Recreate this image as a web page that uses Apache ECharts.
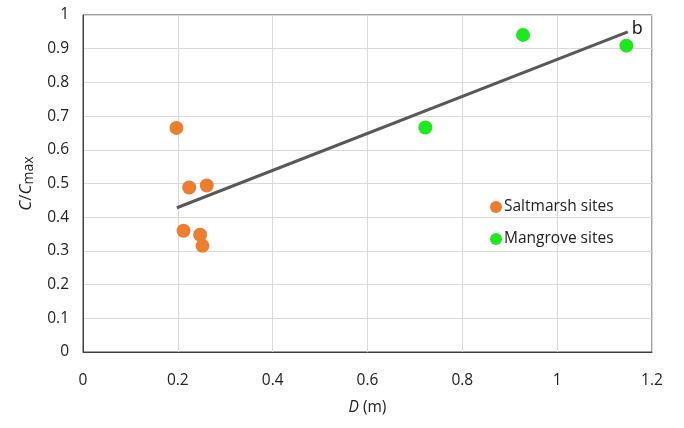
<!DOCTYPE html>
<html>
<head>
<meta charset="utf-8">
<script src="https://cdn.jsdelivr.net/npm/echarts@6/dist/echarts.min.js"></script>
<style>
  html, body { margin: 0; padding: 0; background: #fff; }
  #chart { width: 684px; height: 428px; }
</style>
</head>
<body>
<div id="chart"></div>
<script>
// saltmarsh sites
const saltX = [0.197, 0.224, 0.261, 0.212, 0.247, 0.252]
const saltY = [0.665, 0.488, 0.494, 0.360, 0.348, 0.315]
// mangrove sites
const mangX = [0.722, 0.928, 1.146]
const mangY = [0.666, 0.941, 0.909]
// trend line b
const trendX = [0.198, 1.149]
const trendY = [0.428, 0.950]

const pairs = (xs, ys) => xs.map((x, i) => [x, ys[i]])
const font = 'Open Sans'

const myChart = echarts.init(document.getElementById('chart'))
const option = {
  animation: false,
  grid: { left: 83, right: 32, top: 15, bottom: 76, show: true, borderColor: '#404040', borderWidth: 1 },
  legend: {
    orient: 'vertical',
    left: 485,
    top: 194,
    itemGap: 16,
    itemWidth: 12,
    itemHeight: 12,
    data: [
      { name: 'Saltmarsh sites', icon: 'circle' },
      { name: 'Mangrove sites', icon: 'circle' }
    ],
    textStyle: { fontFamily: font, fontSize: 15.5, color: '#222', padding: [0, 0, 0, -3] }
  },
  xAxis: {
    type: 'value',
    min: 0, max: 1.2, interval: 0.2,
    name: '{i|D} (m)',
    nameLocation: 'middle',
    nameGap: 48,
    nameTextStyle: {
      fontFamily: font, fontSize: 15.5, color: '#222',
      rich: { i: { fontFamily: font, fontSize: 15.5, fontStyle: 'italic', color: '#222' } }
    },
    axisLine: { show: true, lineStyle: { color: '#404040', width: 1 } },
    axisTick: { show: false },
    axisLabel: { fontFamily: font, fontSize: 15.5, color: '#222', margin: 21 },
    splitLine: { show: true, lineStyle: { color: '#d9d9d9' } }
  },
  yAxis: {
    type: 'value',
    min: 0, max: 1, interval: 0.1,
    name: '{i|C}/{i|C}{s|max}',
    nameLocation: 'middle',
    nameGap: 44,
    nameRotate: 90,
    nameTextStyle: {
      fontFamily: font, fontSize: 17, color: '#222',
      rich: {
        i: { fontFamily: font, fontSize: 17, fontStyle: 'italic', color: '#222' },
        s: { fontFamily: font, fontSize: 14, color: '#222', verticalAlign: 'bottom', padding: [7, 0, 0, 0] }
      }
    },
    axisLine: { show: true, lineStyle: { color: '#404040', width: 1 } },
    axisTick: { show: false },
    axisLabel: {
      fontFamily: font, fontSize: 15.5, color: '#222', margin: 14,
      formatter: v => String(Math.round(v * 10) / 10)
    },
    splitLine: { show: true, lineStyle: { color: '#d9d9d9' } }
  },
  series: [
    {
      name: 'trend',
      type: 'line',
      data: pairs(trendX, trendY),
      symbol: 'none',
      lineStyle: { color: '#595959', width: 3 },
      endLabel: {
        show: true,
        formatter: 'b',
        fontFamily: font,
        fontSize: 18,
        color: '#111',
        distance: 4,
        offset: [0, -3]
      },
      z: 2
    },
    {
      name: 'Saltmarsh sites',
      type: 'scatter',
      data: pairs(saltX, saltY),
      symbolSize: 14,
      itemStyle: { color: '#ed7d31', opacity: 1 },
      z: 3
    },
    {
      name: 'Mangrove sites',
      type: 'scatter',
      data: pairs(mangX, mangY),
      symbolSize: 14,
      itemStyle: { color: '#1ee81e', opacity: 1 },
      z: 3
    }
  ]
}
myChart.setOption(option)
</script>
</body>
</html>
